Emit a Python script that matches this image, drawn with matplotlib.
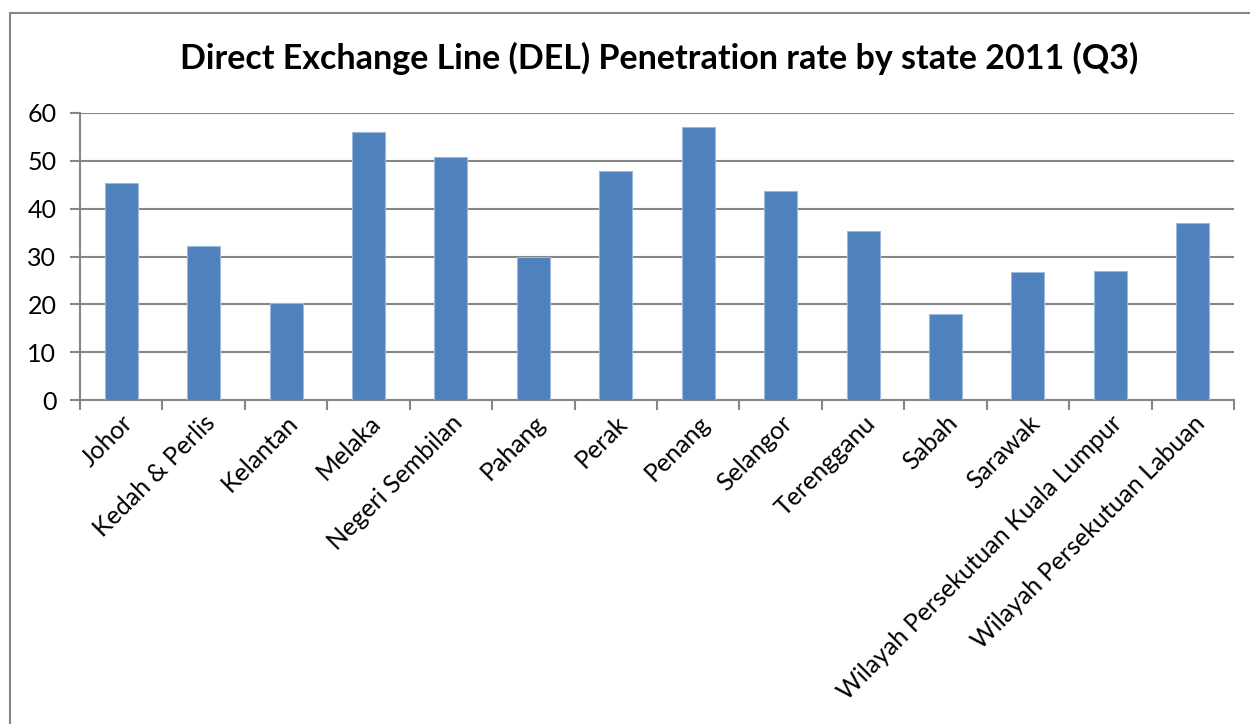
import matplotlib.pyplot as plt
import matplotlib.patches as patches
import numpy as np

states = ['Johor', 'Kedah & Perlis', 'Kelantan', 'Melaka', 'Negeri Sembilan',
          'Pahang', 'Perak', 'Penang', 'Selangor', 'Terengganu', 'Sabah',
          'Sarawak', 'Wilayah Persekutuan Kuala Lumpur', 'Wilayah Persekutuan Labuan']
rates = [45.3, 32.2, 20.2, 56.1, 50.7, 29.8, 47.9, 57.1, 43.6, 35.3, 18.0,
         26.7, 27.0, 37.1]
yticks = [0, 10, 20, 30, 40, 50, 60]

plt.rcParams['font.family'] = ['Lato', 'DejaVu Sans']

fig = plt.figure(figsize=(12.5, 7.24), dpi=100)
W, H = 1250, 724
ax = fig.add_axes([80 / W, 1 - 400 / H, (1234 - 80) / W, (400 - 113) / H])

# chart frame
fig.patches.append(patches.Rectangle((10 / W, -0.05), 1.1, 1 - 13 / H + 0.05,
                                     transform=fig.transFigure, fill=False,
                                     edgecolor='#868686', linewidth=1.5))

x = np.arange(len(states))
ax.bar(x, rates, width=0.4, color='#4F81BD', edgecolor='#9DB9DD',
       linewidth=0.8, zorder=3)

ax.set_xlim(-0.5, len(states) - 0.5)
ax.set_ylim(0, 60)
ax.set_yticks(yticks)
ax.grid(axis='y', color='#868686', linewidth=1.5, zorder=0)

for s in ['top', 'right']:
    ax.spines[s].set_visible(False)
for s in ['left', 'bottom']:
    ax.spines[s].set_color('#868686')
    ax.spines[s].set_linewidth(1.5)

# ticks between categories, labels at centres
ax.set_xticks(np.arange(len(states) + 1) - 0.5)
ax.set_xticklabels([])
ax.set_xticks(x, minor=True)
ax.set_xticklabels(states, minor=True, rotation=45, ha='right',
                   rotation_mode='anchor', fontsize=18)
ax.tick_params(axis='x', which='major', length=7, width=1.5, color='#868686')
ax.tick_params(axis='x', which='minor', length=0, pad=8)
ax.tick_params(axis='y', length=7, width=1.5, color='#868686', labelsize=18,
               pad=10)

fig.text(0.527, 1 - 58 / H, 'Direct Exchange Line (DEL) Penetration rate by state 2011 (Q3)',
         ha='center', va='center', fontsize=24.5, fontweight='bold')

fig.savefig('out.png', dpi=100)
